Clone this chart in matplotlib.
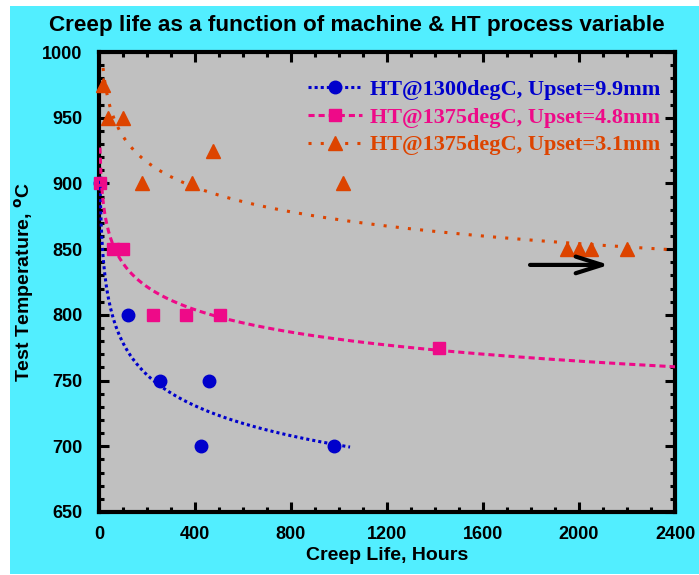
import matplotlib
matplotlib.use('Agg')
import matplotlib.pyplot as plt
import numpy as np
from matplotlib.patches import Rectangle
from matplotlib.lines import Line2D

# ---- data ----
blue_x = [4, 121, 254, 458, 425, 979]
blue_y = [900, 800, 750, 750, 700, 700]
pink_x = [4, 60, 102, 225, 362, 504, 1417]
pink_y = [900, 850, 850, 800, 800, 800, 775]
orange_x = [17, 37, 100, 179, 387, 475, 1017, 1950, 2000, 2050, 2200]
orange_y = [975, 950, 950, 900, 900, 925, 900, 850, 850, 850, 850]

labels = ["HT@1300degC, Upset=9.9mm",
          "HT@1375degC, Upset=4.8mm",
          "HT@1375degC, Upset=3.1mm"]

# power-law trendlines y = a * x^b  (a, b, x_start, x_end)
blue_fit = (961.0, -0.0457, 4, 1046)
pink_fit = (968.0, -0.031, 4, 2400)
orange_fit = (1077.0, -0.0305, 17, 2400)

arrow_from = (1796, 838)
arrow_to = (2125, 838)

x_ticks = [0, 400, 800, 1200, 1600, 2000, 2400]
y_ticks = [650, 700, 750, 800, 850, 900, 950, 1000]

# ---- styles ----
c_blue = '#0000CC'
c_pink = '#EE0A88'
c_orange = '#DD4400'
c_cyan = '#52EEFF'
c_gray = '#C0C0C0'

fig = plt.figure(figsize=(6.99, 5.75), dpi=100, facecolor='white')
bg = Rectangle((10/699, 1/575), 1 - 10/699, (574-6)/575,
               transform=fig.transFigure, facecolor=c_cyan,
               edgecolor='none', zorder=-10)
fig.add_artist(bg)

ax = fig.add_axes([99/699, 1 - 512/575, 576/699, 460/575])
ax.set_zorder(1)
ax.set_facecolor(c_gray)

tick_font = dict(family='Liberation Sans', weight='bold', size=13)

# markers
ax.plot(blue_x, blue_y, 'o', color=c_blue, ms=9, zorder=3, clip_on=False)
ax.plot(pink_x, pink_y, 's', color=c_pink, ms=9, zorder=3, clip_on=False)
ax.plot(orange_x, orange_y, '^', color=c_orange, ms=9.5, zorder=3, clip_on=False)

def trend(fit, color, dashes):
    a, b, x0, x1 = fit
    xs = np.linspace(x0, x1, 600)
    ax.plot(xs, a * xs ** b, color=color, lw=2.2, dashes=dashes, zorder=4)

trend(blue_fit, c_blue, (1, 1))
trend(pink_fit, c_pink, (2, 1.3))
trend(orange_fit, c_orange, (1, 3))

ax.annotate('', xy=arrow_to, xytext=arrow_from,
            arrowprops=dict(arrowstyle='->,head_length=1.9,head_width=0.6',
                            color='black', lw=3, shrinkA=0, shrinkB=0), zorder=5)

ax.set_xlim(0, 2400)
ax.set_ylim(650, 1000)
ax.set_xticks(x_ticks)
ax.set_yticks(y_ticks)
ax.set_xticks(np.arange(0, 2401, 100), minor=True)
ax.set_yticks(np.arange(650, 1001, 10), minor=True)
ax.set_xticklabels([str(v) for v in x_ticks], **tick_font)
ax.set_yticklabels([str(v) for v in y_ticks], **tick_font)
ax.tick_params(which='both', direction='in', top=True, right=True, color='black')
ax.tick_params(which='major', length=7, width=2.2, pad=12)
ax.tick_params(which='minor', length=3.5, width=2.2)
ax.tick_params(axis='x', which='major', pad=10)
for s in ax.spines.values():
    s.set_linewidth(3)
    s.set_color('black')

ax.set_xlabel('Creep Life, Hours', family='Liberation Sans', weight='bold',
              size=14, labelpad=3)
ax.set_ylabel('Test Temperature, $^{\\mathbf{o}}$C', family='Liberation Sans',
              weight='bold', size=14, labelpad=4)

fig.text(357/699, 1 - 25/575, 'Creep life as a function of machine & HT process variable',
         ha='center', va='center', family='Liberation Sans', weight='bold', size=16.2)

handles = [
    Line2D([], [], color=c_blue, lw=2.2, dashes=(1, 1), marker='o', ms=9),
    Line2D([], [], color=c_pink, lw=2.2, dashes=(2, 1.3), marker='s', ms=9),
    Line2D([], [], color=c_orange, lw=2.2, dashes=(1, 3), marker='^', ms=9.5),
]
leg = ax.legend(handles, labels, loc='upper left', bbox_to_anchor=(0.363, 0.941),
                frameon=False, numpoints=1, handlelength=2.43, handletextpad=0.35,
                borderpad=0, borderaxespad=0, labelspacing=0.33,
                prop=dict(family='Liberation Serif', weight='bold', size=16))
for t, c in zip(leg.get_texts(), [c_blue, c_pink, c_orange]):
    t.set_color(c)

fig.savefig('out.png', dpi=100, facecolor='white')
